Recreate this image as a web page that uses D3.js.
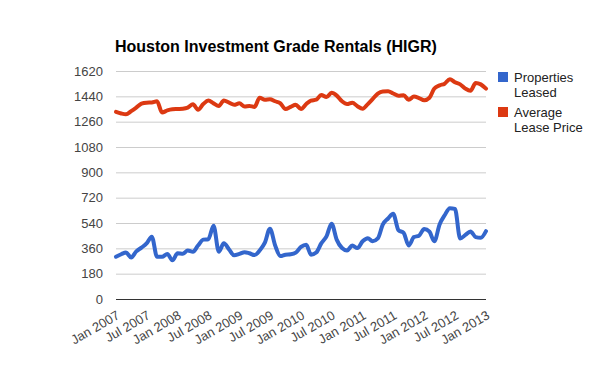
<!DOCTYPE html>
<html>
<head>
<meta charset="utf-8">
<script src="https://cdn.jsdelivr.net/npm/d3@7"></script>
<style>
  body { margin: 0; background: #fff; }
  text { font-family: Arial, "Liberation Sans", sans-serif; }
</style>
</head>
<body>
<div id="chart"></div>
<script>
// monthly values, Jan 2007 .. Jan 2013
var leased = [300, 318, 330, 295, 338, 365, 395, 443, 300, 300, 320, 275, 325, 322, 345, 336,
    380, 422, 425, 520, 336, 396, 352, 310, 320, 333, 325, 312, 345, 400, 500, 380, 305, 315,
    318, 330, 370, 385, 315, 330, 395, 445, 535, 420, 362, 345, 380, 362, 410, 432, 410, 430,
    530, 572, 605, 490, 470, 380, 440, 450, 498, 478, 410, 530, 595, 645, 640, 430, 455, 480,
    440, 435, 482];
var price = [1330, 1318, 1312, 1335, 1360, 1388, 1395, 1396, 1405, 1325, 1340, 1348, 1350, 1352,
    1360, 1383, 1345, 1385, 1410, 1390, 1372, 1410, 1395, 1380, 1390, 1368, 1372, 1365, 1430,
    1416, 1420, 1405, 1390, 1350, 1365, 1380, 1350, 1385, 1410, 1416, 1450, 1435, 1465, 1445,
    1405, 1385, 1395, 1370, 1352, 1385, 1420, 1460, 1475, 1476, 1460, 1445, 1448, 1415, 1438,
    1428, 1412, 1430, 1496, 1518, 1530, 1562, 1540, 1525, 1495, 1480, 1535, 1525, 1495];
var yTicks = [0, 180, 360, 540, 720, 900, 1080, 1260, 1440, 1620];
var xTickLabels = ["Jan 2007", "Jul 2007", "Jan 2008", "Jul 2008", "Jan 2009", "Jul 2009",
    "Jan 2010", "Jul 2010", "Jan 2011", "Jul 2011", "Jan 2012", "Jul 2012", "Jan 2013"];
var seriesNames = ["Properties Leased", "Average Lease Price"];
var colors = ["#3366cc", "#dc3912"];

var months = d3.timeMonth.range(new Date(2007, 0, 1), new Date(2013, 0, 2));
var parseTick = d3.timeParse("%b %Y");

var width = 600, height = 371;
var margin = {top: 71, right: 114, bottom: 72, left: 116};
var w = width - margin.left - margin.right,
    h = height - margin.top - margin.bottom;

var svg = d3.select("#chart")
  .append("svg")
    .attr("width", width)
    .attr("height", height);

svg.append("text")
    .attr("x", 115)
    .attr("y", 52)
    .attr("font-size", 16)
    .attr("font-weight", "bold")
    .attr("fill", "#000")
    .text("Houston Investment Grade Rentals (HIGR)");

var g = svg.append("g")
    .attr("transform", "translate(" + margin.left + "," + margin.top + ")");

var x = d3.scaleTime()
    .domain(d3.extent(months))
    .range([0, w]);
var y = d3.scaleLinear()
    .domain([0, 1620])
    .range([h, 0]);

// gridlines + y labels
var yAxis = g.append("g")
    .call(d3.axisLeft(y).tickValues(yTicks).tickSize(-w).tickPadding(13).tickFormat(d3.format("d")));
yAxis.select(".domain").remove();
yAxis.selectAll(".tick line")
    .attr("stroke", function(d) { return d == 0 ? "#333" : "#ccc"; });
yAxis.selectAll(".tick text")
    .attr("font-size", 13)
    .attr("fill", "#444")
    .attr("font-family", "Arial, 'Liberation Sans', sans-serif");

// x labels
var xAxis = g.append("g")
    .attr("transform", "translate(0," + h + ")")
    .call(d3.axisBottom(x).tickValues(xTickLabels.map(function(s) { return parseTick(s); }))
        .tickSize(0).tickFormat(d3.timeFormat("%b %Y")));
xAxis.select(".domain").remove();
xAxis.selectAll(".tick text")
    .attr("font-size", 13)
    .attr("fill", "#444")
    .attr("font-family", "Arial, 'Liberation Sans', sans-serif")
    .attr("text-anchor", "end")
    .attr("dy", 0)
    .attr("y", 0)
    .attr("transform", "translate(4,19)rotate(-30)");

var line = d3.line()
    .x(function(d, i) { return x(months[i]); })
    .y(function(d) { return y(d); })
    .curve(d3.curveMonotoneX);

[leased, price].forEach(function(s, k) {
  g.append("path")
      .datum(s)
      .attr("fill", "none")
      .attr("stroke", colors[k])
      .attr("stroke-width", 4)
      .attr("stroke-linejoin", "round")
      .attr("stroke-linecap", "round")
      .attr("d", line);
});

// legend
var legend = svg.append("g").attr("transform", "translate(498,72)");
seriesNames.forEach(function(name, k) {
  var lg = legend.append("g").attr("transform", "translate(0," + (k * 35) + ")");
  lg.append("rect").attr("width", 10).attr("height", 10).attr("fill", colors[k]);
  var words = name.split(" ");
  var first = words[0], rest = words.slice(1).join(" ");
  lg.append("text").attr("x", 16).attr("y", 10).attr("font-size", 13).attr("fill", "#222").text(first);
  lg.append("text").attr("x", 16).attr("y", 25).attr("font-size", 13).attr("fill", "#222").text(rest);
});
</script>
</body>
</html>
